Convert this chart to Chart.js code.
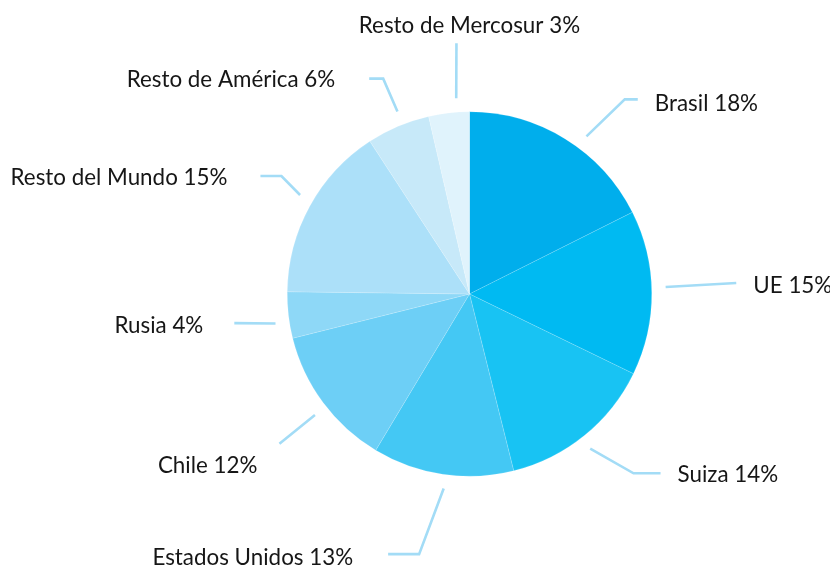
<!DOCTYPE html>
<html>
<head>
<meta charset="utf-8">
<script src="https://cdn.jsdelivr.net/npm/chart.js@4/dist/chart.umd.min.js"></script>
<style>
  html, body { margin: 0; padding: 0; background: #ffffff; }
  #wrap { width: 830px; height: 568px; }
</style>
</head>
<body>
<div id="wrap"><canvas id="c" width="830" height="568"></canvas></div>
<script>
// ---- data ----
const categories = ['Brasil', 'UE', 'Suiza', 'Estados Unidos', 'Chile', 'Rusia', 'Resto del Mundo', 'Resto de América', 'Resto de Mercosur'];
const shares = [17.6, 14.6, 13.9, 12.5, 12.5, 4.1, 15.6, 5.6, 3.6];   // slice sizes as drawn
const labelPct = [18, 15, 14, 13, 12, 4, 15, 6, 3];                    // printed percentages

// ---- styles ----
const sliceColors = ['#00aeec', '#00baf2', '#18c3f3', '#44c8f4', '#6dcff6', '#8ed8f7', '#ace0f9', '#c7e9f9', '#e0f3fc'];
const leaderColor = '#a3dcf6';
const textColor = '#161616';
const fontFamily = 'Lato, "Open Sans", sans-serif';

// leader layout: angle offsets (deg) for start/elbow, elbow distance, horizontal tail, text placement
const leaderLayout = [
  {a1: 4.9,  a2: 6.9,  L: 249, T: 13, mode: 'right', gap: 17, dy: 2.7},
  {a1: -1.7, a2: -2.0, L: 267, T: 0,  mode: 'right', gap: 17, dy: 1.8},
  {a1: 1.1,  a2: -3.4, L: 243, T: 27, mode: 'right', gap: 17, dy: 0.7},
  {a1: -0.9, a2: 2.5,  L: 265, T: 31, mode: 'left',  gap: 35, dy: 2.3},
  {a1: -1.5, a2: -1.7, L: 242, T: 0,  mode: 'below', tx: -22, ty: 20.6},
  {a1: -2.0, a2: -0.4, L: 237, T: 0,  mode: 'left',  gap: 31, dy: 1.4},
  {a1: 1.5,  a2: 3.3,  L: 222, T: 21, mode: 'left',  gap: 33, dy: 0},
  {a1: 1.5,  a2: 1.2,  L: 232, T: 14, mode: 'left',  gap: 34, dy: 0},
  {a1: 2.6,  a2: 3.5,  L: 251, T: 0,  mode: 'top',   tx: 13, ty: -10}
];

const labelPlugin = {
  id: 'leaderLabels',
  afterDatasetsDraw(chart) {
    const ctx = chart.ctx;
    const meta = chart.getDatasetMeta(0);
    ctx.save();
    // fit font so the longest label matches the reference width
    ctx.font = '100px ' + fontFamily;
    const w100 = ctx.measureText('Resto del Mundo 15%').width;
    const fs = 100 * 217 / w100;
    ctx.font = fs.toFixed(2) + 'px ' + fontFamily;
    const capH = ctx.measureText('H').actualBoundingBoxAscent;
    const rad = Math.PI / 180;
    meta.data.forEach((arc, i) => {
      const p = arc.getProps(['x', 'y', 'startAngle', 'endAngle', 'outerRadius'], true);
      const mid = (p.startAngle + p.endAngle) / 2;
      const cfg = leaderLayout[i];
      const t1 = mid + cfg.a1 * rad, t2 = mid + cfg.a2 * rad;
      const d1 = p.outerRadius + 14;
      const sx = p.x + d1 * Math.cos(t1), sy = p.y + d1 * Math.sin(t1);
      const ex = p.x + cfg.L * Math.cos(t2), ey = p.y + cfg.L * Math.sin(t2);
      const dir = (cfg.mode === 'left' || cfg.mode === 'below') ? -1 : 1;
      const tx = ex + dir * cfg.T;
      ctx.strokeStyle = leaderColor;
      ctx.lineWidth = 2.6;
      ctx.lineJoin = 'miter';
      ctx.beginPath();
      ctx.moveTo(sx, sy);
      ctx.lineTo(ex, ey);
      if (cfg.T > 0) ctx.lineTo(tx, ey);
      ctx.stroke();

      const text = categories[i] + ' ' + labelPct[i] + '%';
      ctx.fillStyle = textColor;
      ctx.textBaseline = 'alphabetic';
      if (cfg.mode === 'right') {
        ctx.textAlign = 'left';
        ctx.fillText(text, tx + cfg.gap, ey + capH / 2 + cfg.dy);
      } else if (cfg.mode === 'left') {
        ctx.textAlign = 'right';
        ctx.fillText(text, tx - cfg.gap, ey + capH / 2 + cfg.dy);
      } else if (cfg.mode === 'below') {
        ctx.textAlign = 'right';
        ctx.fillText(text, ex + cfg.tx, ey + cfg.ty + capH / 2);
      } else {
        ctx.textAlign = 'center';
        ctx.fillText(text, ex + cfg.tx, ey + cfg.ty);
      }
    });
    ctx.restore();
  }
};

new Chart(document.getElementById('c'), {
  type: 'pie',
  data: {
    labels: categories,
    datasets: [{
      data: shares,
      backgroundColor: sliceColors,
      borderColor: 'rgba(255,255,255,0.3)',
      borderWidth: 0.5
    }]
  },
  options: {
    responsive: false,
    animation: false,
    events: [],
    layout: { padding: { left: 287, right: 178, top: 111.5, bottom: 91.5 } },
    plugins: {
      legend: { display: false },
      tooltip: { enabled: false }
    }
  },
  plugins: [labelPlugin]
});
</script>
</body>
</html>
